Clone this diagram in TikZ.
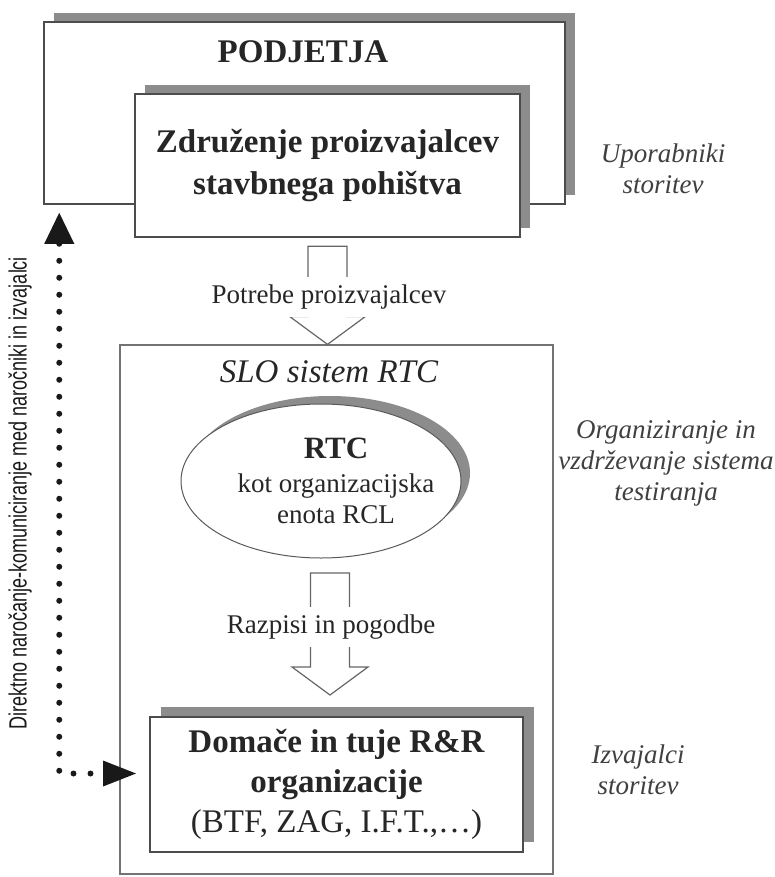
\documentclass[tikz,border=0pt]{standalone}
\usepackage{fontspec}
\setmainfont{Liberation Serif}
\newfontfamily\narrowsans[FakeStretch=0.72]{Liberation Sans}
\usepackage{tikz}
\usetikzlibrary{arrows.meta, positioning, shapes.geometric, calc, shadows}

% hollow block arrow from top of shaft (#1) to tip (#2)
\newcommand{\blockarrow}[2]{%
  \draw[arrowline] ($(#1)+(-19.5,0)$) -- ($(#1)+(19.5,0)$) -- ($(#2)+(19.5,-28)$)
    -- ($(#2)+(38,-28)$) -- (#2) -- ($(#2)+(-38,-28)$) -- ($(#2)+(-19.5,-28)$) -- cycle;}

\begin{document}
\begin{tikzpicture}[
    x=1pt, y=-1pt,
    every node/.style={text=black!85},
    box/.style={rectangle, draw=black!70, fill=white, inner sep=0pt},
    boxshadow/.style={drop shadow={shadow xshift=10pt, shadow yshift=9pt, fill=black!45, opacity=1}},
    headfont/.style={font=\fontsize{33}{42}\selectfont\bfseries},
    sidelabel/.style={align=center, font=\fontsize{27}{31}\selectfont\itshape, text=black!75},
    arrowlabel/.style={fill=white, inner xsep=2pt, inner ysep=8pt, font=\fontsize{27}{31}\selectfont},
    arrowline/.style={draw=black!60, line width=1.2pt, fill=white},
    dotarrow/.style={line width=6pt, line cap=round, dash pattern=on 0pt off 17pt, black!90}
  ]
  \useasboundingbox (0,0) rectangle (774,877);

  % users
  \node[box, boxshadow, line width=1.5pt, minimum width=521pt, minimum height=182pt] (podjetja) at (304.5,113) {};
  \node[headfont] (podjetjatxt) at (303,52) {PODJETJA};
  \node[box, boxshadow, line width=2.5pt, minimum width=385pt, minimum height=143pt, headfont, align=center]
    (zdruzenje) at (327.5,165.5) {Združenje proizvajalcev\\stavbnega pohištva};
  \node[sidelabel] (uporabniki) at (663,169) {Uporabniki\\storitev};

  % system
  \node[rectangle, draw=black!55, line width=1.2pt, minimum width=433pt, minimum height=529pt] (slo) at (336.5,609.5) {};
  \node[font=\fontsize{33}{40}\selectfont\itshape] (slotxt) at (329,372) {SLO sistem RTC};
  \node[ellipse, draw=black!65, line width=1pt, fill=white, minimum width=280pt, minimum height=154pt,
    drop shadow={shadow xshift=9pt, shadow yshift=8pt, fill=black!45, opacity=1}] (rtc) at (321,481) {};
  \node[align=center, font=\fontsize{27}{31}\selectfont] (rtctxt) at (336,481)
    {{\fontsize{31}{35}\selectfont\bfseries RTC}\\[3pt]kot organizacijska\\enota RCL};
  \node[sidelabel] (organiziranje) at (666,463) {Organiziranje in\\vzdrževanje sistema\\testiranja};

  % performers
  \node[box, line width=2pt, minimum width=373pt, minimum height=135pt, align=center,
    font=\fontsize{33}{40}\selectfont\bfseries,
    drop shadow={shadow xshift=11pt, shadow yshift=10pt, fill=black!45, opacity=1}]
    (domace) at (336.5,784.5) {Domače in tuje R\&R\\organizacije\\{\mdseries (BTF, ZAG, I.F.T.,…)}};
  \node[sidelabel] (izvajalci) at (638,770) {Izvajalci\\storitev};

  % hollow arrows
  \coordinate (a1top) at ([yshift=-8pt]zdruzenje.south);
  \coordinate (a1tip) at (zdruzenje.south |- slo.north);
  \blockarrow{a1top}{a1tip}
  \node[arrowlabel] (potrebe) at (329,297) {Potrebe proizvajalcev};
  \coordinate (a2top) at (330,573);
  \coordinate (a2tip) at (330,695);
  \blockarrow{a2top}{a2tip}
  \node[arrowlabel] (razpisi) at (331,627) {Razpisi in pogodbe};

  % direct communication
  \coordinate (dtop) at ([xshift=16pt, yshift=-8pt]podjetja.south west);
  \coordinate (dend) at ([xshift=-13pt, yshift=11pt]domace.west);
  \draw[dotarrow, {Triangle[length=31pt, width=30pt, line width=0pt]}-{Triangle[length=33pt, width=26pt, line width=0pt]}]
    (dtop) -- (dtop |- dend) -- (dend);
  \node[rotate=90, font=\narrowsans\fontsize{25}{29}\selectfont, text=black!90] (direktno) at (20,493)
    {Direktno naročanje-komuniciranje med naročniki in izvajalci};
\end{tikzpicture}
\end{document}
